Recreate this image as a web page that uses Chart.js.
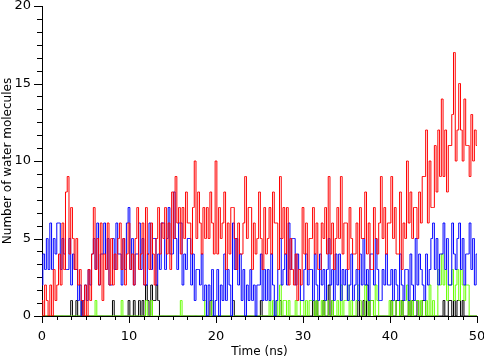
<!DOCTYPE html>
<html>
<head>
<meta charset="utf-8">
<script src="https://cdn.jsdelivr.net/npm/chart.js@4/dist/chart.umd.min.js"></script>
<style>
	html, body { margin: 0; padding: 0; background: #fff; }
	#wrap { width: 484px; height: 359px; }
</style>
</head>
<body>
<div id="wrap"><canvas id="waterChart" width="484" height="359"></canvas></div>
<script>
// sampling step of the trajectory (ns)
const timeStep = 0.2;

// number of water molecules, one value per 0.2 ns (t = 0 .. 50), one row = 10 ns
const redCounts = [
	1,0,2,1,0, 2,0,3,1,2, 4,2,6,3,8, 9,4,7,5,3, 5,2,3,1,0, 2,0,3,1,4, 7,3,5,2,6, 1,4,3,6,2, 5,2,4,3,5, 6,3,5,2,4,
	6,3,4,2,5, 7,3,4,6,2, 7,4,3,6,4, 2,5,7,4,6, 5,7,4,6,3, 8,5,9,6,7, 4,7,5,8,6, 6,4,7,10,5, 8,6,4,7,5, 7,5,8,6,4,
	10,4,7,5,6, 8,3,6,4,7, 7,5,3,6,4, 4,6,9,5,7, 7,3,6,4,5, 8,5,3,7,4, 5,7,4,8,6, 6,3,9,5,7, 4,7,2,5,3, 2,4,1,3,2,
	7,4,6,3,5, 5,7,4,6,3, 3,6,5,7,4, 9,4,6,3,5, 7,5,9,4,6, 6,3,7,5,4, 4,6,3,7,5, 5,8,4,6,3, 3,7,5,4,6, 9,5,7,4,6,
	6,9,5,7,4, 4,8,3,6,5, 10,6,8,5,7, 7,5,8,6,9, 9,12,6,10,7, 7,11,8,12,9, 14,9,12,8,11, 11,13,17,10,12, 15,12,10,14,11, 11,9,13,10,12,
	11
];
const blueCounts = [
	2,4,3,5,3, 6,3,5,4,6, 6,3,5,4,3, 3,5,2,4,3, 3,1,2,0,1, 2,1,3,2,4, 5,3,6,2,4, 4,6,3,5,2, 2,5,3,6,4, 4,2,5,3,6,
	7,3,5,2,4, 4,6,3,5,2, 2,4,6,3,5, 5,2,4,3,6, 6,3,5,7,4, 4,8,5,3,6, 6,2,4,3,5, 5,2,4,1,3, 3,2,4,1,2, 0,2,1,3,0,
	1,3,0,2,1, 4,1,3,2,0, 6,3,5,2,4, 1,3,0,2,1, 3,1,2,0,2, 2,4,1,3,1, 3,1,4,2,0, 1,3,5,2,3, 4,2,6,3,5, 5,2,4,3,1,
	1,3,4,2,3, 3,1,4,2,1, 4,2,3,1,3, 5,2,3,1,4, 2,4,1,3,2, 3,1,2,4,1, 2,3,1,4,2, 5,2,3,1,4, 4,2,5,3,1, 1,3,2,4,2,
	2,3,1,3,2, 1,4,2,1,3, 3,1,4,2,1, 5,2,4,3,2, 1,4,2,3,5, 6,3,5,2,4, 4,6,3,5,2, 2,6,4,3,5, 6,3,5,2,4, 4,6,3,5,2,
	4
];
const greenCounts = [
	0,0,0,0,0, 0,0,0,0,0, 0,0,0,0,0, 0,0,0,0,0, 0,0,0,0,0, 0,0,0,0,0, 0,1,0,0,0, 0,0,0,0,0, 0,0,0,0,0, 0,1,0,0,0,
	0,0,0,0,0, 0,0,0,0,0, 1,0,0,1,0, 0,0,0,0,0, 0,0,0,0,0, 0,0,0,0,0, 1,0,0,0,0, 0,0,0,0,0, 0,0,0,0,1, 0,0,0,1,0,
	0,0,0,0,0, 0,0,0,0,0, 0,0,0,0,0, 0,0,0,0,0, 0,0,0,0,0, 0,0,0,0,0, 0,1,0,1,0, 1,0,2,0,1, 1,0,1,0,0, 0,1,0,0,1,
	1,0,1,0,1, 1,1,0,1,0, 0,1,0,1,1, 0,0,1,0,0, 1,0,2,0,1, 1,2,0,1,0, 0,1,2,1,0, 0,2,1,0,1, 1,0,2,1,0, 0,0,0,0,0,
	1,0,1,1,0, 0,1,0,1,1, 2,0,1,0,1, 1,1,0,1,0, 0,1,0,2,0, 1,0,0,3,2, 4,2,3,1,2, 2,3,1,2,3, 1,3,2,1,2, 2,0,0,0,0,
	0
];
const blackCounts = [
	0,0,0,0,0, 0,0,0,0,0, 0,0,0,0,0, 0,0,1,0,0, 1,0,0,1,0, 0,0,0,0,0, 0,0,0,0,0, 0,0,0,0,0, 0,1,0,0,0, 0,0,0,0,0,
	1,0,0,1,0, 0,1,0,1,0, 2,1,0,2,1, 1,2,1,0,0, 0,0,0,0,0, 0,0,0,0,0, 0,0,0,0,0, 0,0,0,0,0, 0,0,0,0,0, 0,0,1,0,0,
	0,0,0,0,0, 0,0,0,0,0, 1,0,0,0,0, 0,0,0,0,0, 0,0,0,0,0, 0,1,0,0,0, 0,0,0,0,0, 0,0,1,0,0, 0,0,0,0,0, 0,0,0,0,0,
	0,0,0,0,0, 0,1,0,1,0, 0,0,1,0,0, 2,0,1,0,0, 0,0,0,0,0, 0,0,0,0,0, 0,0,1,0,0, 1,0,2,0,1, 1,0,0,0,0, 0,0,0,0,0,
	0,1,0,0,1, 1,0,1,0,0, 0,1,0,1,0, 0,1,0,0,1, 1,0,0,0,0, 0,0,0,0,0, 0,1,0,0,1, 1,0,1,0,1, 1,0,1,0,0, 0,0,0,0,0,
	0
];

const xTickLabels = [0, 10, 20, 30, 40, 50];
const yTickLabels = [0, 5, 10, 15, 20];

function toPoints(values) {
	return values.map((v, i) => ({ x: i * timeStep, y: v }));
}

// outward tick marks: 6 subdivisions between labelled ticks
const tickMarks = {
	id: 'tickMarks',
	afterDraw(chart) {
		const ctx = chart.ctx;
		const xs = chart.scales.x, ys = chart.scales.y;
		ctx.save();
		ctx.strokeStyle = '#000';
		ctx.lineWidth = 1;
		ctx.beginPath();
		for (let k = 0; k <= 30; k++) {
			const px = Math.round(xs.getPixelForValue(k * 10 / 6)) + 0.5;
			const len = k % 6 === 0 ? 7 : 4;
			ctx.moveTo(px, ys.bottom);
			ctx.lineTo(px, ys.bottom + len);
		}
		for (let k = 0; k <= 24; k++) {
			const py = Math.round(ys.getPixelForValue(k * 5 / 6)) + 0.5;
			const len = k % 6 === 0 ? 8 : 5;
			ctx.moveTo(xs.left, py);
			ctx.lineTo(xs.left - len, py);
		}
		ctx.stroke();
		ctx.restore();
	}
};

const line = (label, values, color) => ({
	label: label,
	data: toPoints(values),
	borderColor: color,
	borderWidth: 1,
	pointRadius: 0,
	pointHoverRadius: 0,
	stepped: 'middle',
	fill: false
});

new Chart(document.getElementById('waterChart'), {
	type: 'line',
	data: {
		datasets: [
			line('Red', redCounts, '#ff0000'),
			line('Blue', blueCounts, '#0000ff'),
			line('Green', greenCounts, '#66ff00'),
			line('Black', blackCounts, '#000000')
		]
	},
	options: {
		responsive: false,
		animation: false,
		layout: { autoPadding: false, padding: { top: 6, right: 7, left: 0, bottom: 0 } },
		plugins: { legend: { display: false }, tooltip: { enabled: false } },
		scales: {
			x: {
				type: 'linear',
				min: 0,
				max: 50,
				grid: { display: false, drawTicks: true, tickLength: 15 },
				border: { display: true, color: '#000', width: 1 },
				afterBuildTicks: s => { s.ticks = xTickLabels.map(v => ({ value: v })); },
				afterFit: s => { s.height = 43; },
				ticks: { color: '#000', padding: -2, maxRotation: 0, font: { family: 'DejaVu Sans', size: 13 } },
				title: { display: true, text: 'Time (ns)', color: '#000', padding: 0, font: { family: 'DejaVu Sans', size: 12 } }
			},
			y: {
				min: 0,
				max: 20,
				grid: { display: false, drawTicks: true, tickLength: 13 },
				border: { display: true, color: '#000', width: 1 },
				afterBuildTicks: s => { s.ticks = yTickLabels.map(v => ({ value: v })); },
				afterFit: s => { s.width = 42; },
				ticks: { color: '#000', padding: -2, font: { family: 'DejaVu Sans', size: 13 } },
				title: { display: true, text: 'Number of water molecules', color: '#000', padding: 1, font: { family: 'DejaVu Sans', size: 12 } }
			}
		}
	},
	plugins: [tickMarks]
});
</script>
</body>
</html>
